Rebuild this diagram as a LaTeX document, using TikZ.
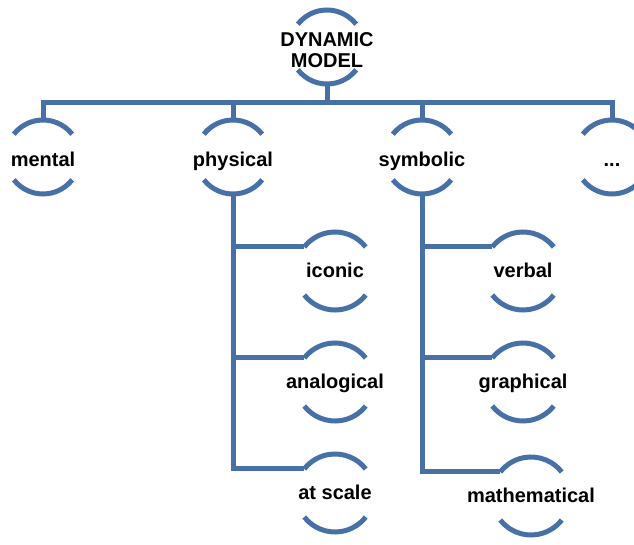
\documentclass[tikz,border=0pt]{standalone}
\usepackage{fontspec}
\setmainfont{Liberation Sans}
\definecolor{linkblue}{RGB}{70,112,166}

\begin{document}
\begin{tikzpicture}[x=1pt, y=1pt,
    link/.style={draw=linkblue, line width=5pt},
    ring/.style={circle, minimum size=#1, inner sep=0pt, outer sep=0pt},
    every label/.style={font=\fontsize{20}{21}\selectfont\bfseries, inner sep=0pt,
        text height=13.5pt, text depth=0pt},
    lowtext/.style={yshift=-3pt}]
    \clip (0,0) rectangle (634,544);

    % Root
    \node[ring=74pt, label={[lowtext, align=center, text height=, text depth=]center:DYNAMIC\\MODEL}] (dm) at (327,497) {};
    \coordinate (bar) at (327,441);

    % Kinds of model
    \node[ring=74pt, label={[lowtext]center:mental}] (mental) at (43,387) {};
    \node[ring=74pt, label={[lowtext]center:physical}] (physical) at (233,387) {};
    \node[ring=74pt, label={[lowtext]center:symbolic}] (symbolic) at (422,387) {};
    \node[ring=74pt, label={[lowtext]center:...}] (dots) at (612,387) {};

    % Physical
    \node[ring=78pt, label=center:iconic] (iconic) at (335,273) {};
    \node[ring=78pt, label=center:analogical] (analogical) at (335,162) {};
    \node[ring=78pt, label=center:at scale] (atscale) at (335,51) {};

    % Symbolic
    \node[ring=78pt, label=center:verbal] (verbal) at (523,273) {};
    \node[ring=78pt, label=center:graphical] (graphical) at (523,162) {};
    \node[ring=78pt, label=center:mathematical] (mathematical) at (531,48) {};

    % Arcs
    \foreach \n/\r in {dm/37, mental/37, physical/37, symbolic/37, dots/37,
        iconic/39, analogical/39, atscale/39, verbal/39, graphical/39, mathematical/39}
        \draw[link] (\n.38) arc[start angle=38, end angle=142, radius=\r pt]
            (\n.218) arc[start angle=218, end angle=322, radius=\r pt];

    % Tree
    \draw[link] (dm.south) -- (bar);
    \draw[link] (mental.north) |- (dots.north |- bar) -- (dots.north);
    \draw[link] (physical.north) -- (physical.north |- bar);
    \draw[link] (symbolic.north) -- (symbolic.north |- bar);

    \draw[link] (physical.south) |- (atscale.142);
    \draw[link] (physical.south |- iconic.142) -- (iconic.142);
    \draw[link] (physical.south |- analogical.142) -- (analogical.142);

    \draw[link] (symbolic.south) |- (mathematical.142);
    \draw[link] (symbolic.south |- verbal.142) -- (verbal.142);
    \draw[link] (symbolic.south |- graphical.142) -- (graphical.142);
\end{tikzpicture}
\end{document}
